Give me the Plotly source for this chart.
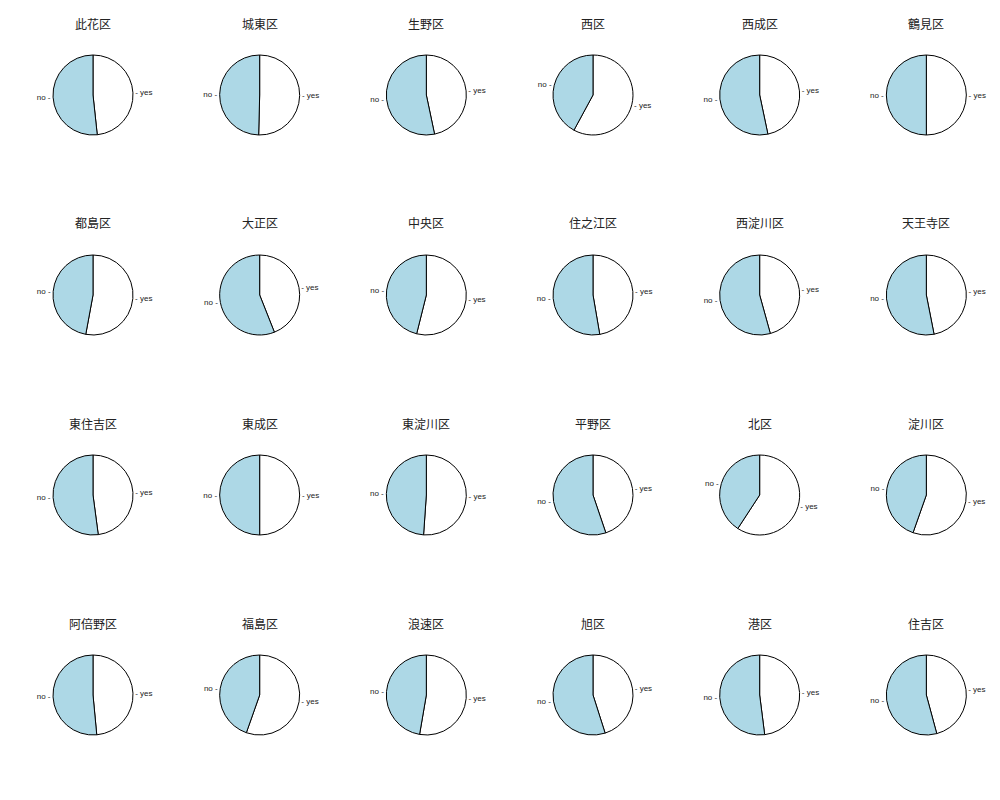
import plotly.graph_objects as go

wards = ["此花区", "城東区", "生野区", "西区", "西成区", "鶴見区",
         "都島区", "大正区", "中央区", "住之江区", "西淀川区", "天王寺区",
         "東住吉区", "東成区", "東淀川区", "平野区", "北区", "淀川区",
         "阿倍野区", "福島区", "浪速区", "旭区", "港区", "住吉区"]
yes_share = [0.483, 0.504, 0.467, 0.579, 0.467, 0.500,
             0.529, 0.440, 0.539, 0.473, 0.457, 0.469,
             0.479, 0.500, 0.511, 0.448, 0.592, 0.554,
             0.485, 0.554, 0.527, 0.451, 0.480, 0.458]
no_share = [round(1 - v, 3) for v in yes_share]
answer_labels = ["yes", "no"]
slice_colors = ["#ffffff", "#add8e6"]

W, H = 1000, 790
ncols, nrows = 6, 4
cx0, dcx = 93, 1000 / 6
cy0, dcy = 95, 200
half = 40

fig = go.Figure()
annotations = []
for i, ward in enumerate(wards):
    r, c = divmod(i, ncols)
    cx = cx0 + c * dcx
    cy = cy0 + r * dcy
    fig.add_trace(go.Pie(
        labels=answer_labels,
        values=[yes_share[i], no_share[i]],
        sort=False,
        direction="clockwise",
        rotation=0,
        marker=dict(colors=slice_colors, line=dict(color="#000000", width=1)),
        textinfo="label",
        textposition="outside",
        texttemplate=["\u2010 %{label}", "%{label} \u2010"],
        textfont=dict(size=8, color="#222222", family="Liberation Sans, Arial"),
        hoverinfo="label+percent",
        showlegend=False,
        domain=dict(x=[(cx - half) / W, (cx + half) / W],
                    y=[1 - (cy + half) / H, 1 - (cy - half) / H]),
    ))
    annotations.append(dict(
        text=ward, x=cx / W, y=1 - (23 + r * dcy) / H,
        xref="paper", yref="paper", showarrow=False,
        xanchor="center", yanchor="middle",
        font=dict(size=12, color="#222222", family="Noto Sans CJK JP"),
    ))

fig.update_layout(
    width=W, height=H,
    margin=dict(l=0, r=0, t=0, b=0),
    paper_bgcolor="white", plot_bgcolor="white",
    annotations=annotations,
)
fig.write_html("out.html")
